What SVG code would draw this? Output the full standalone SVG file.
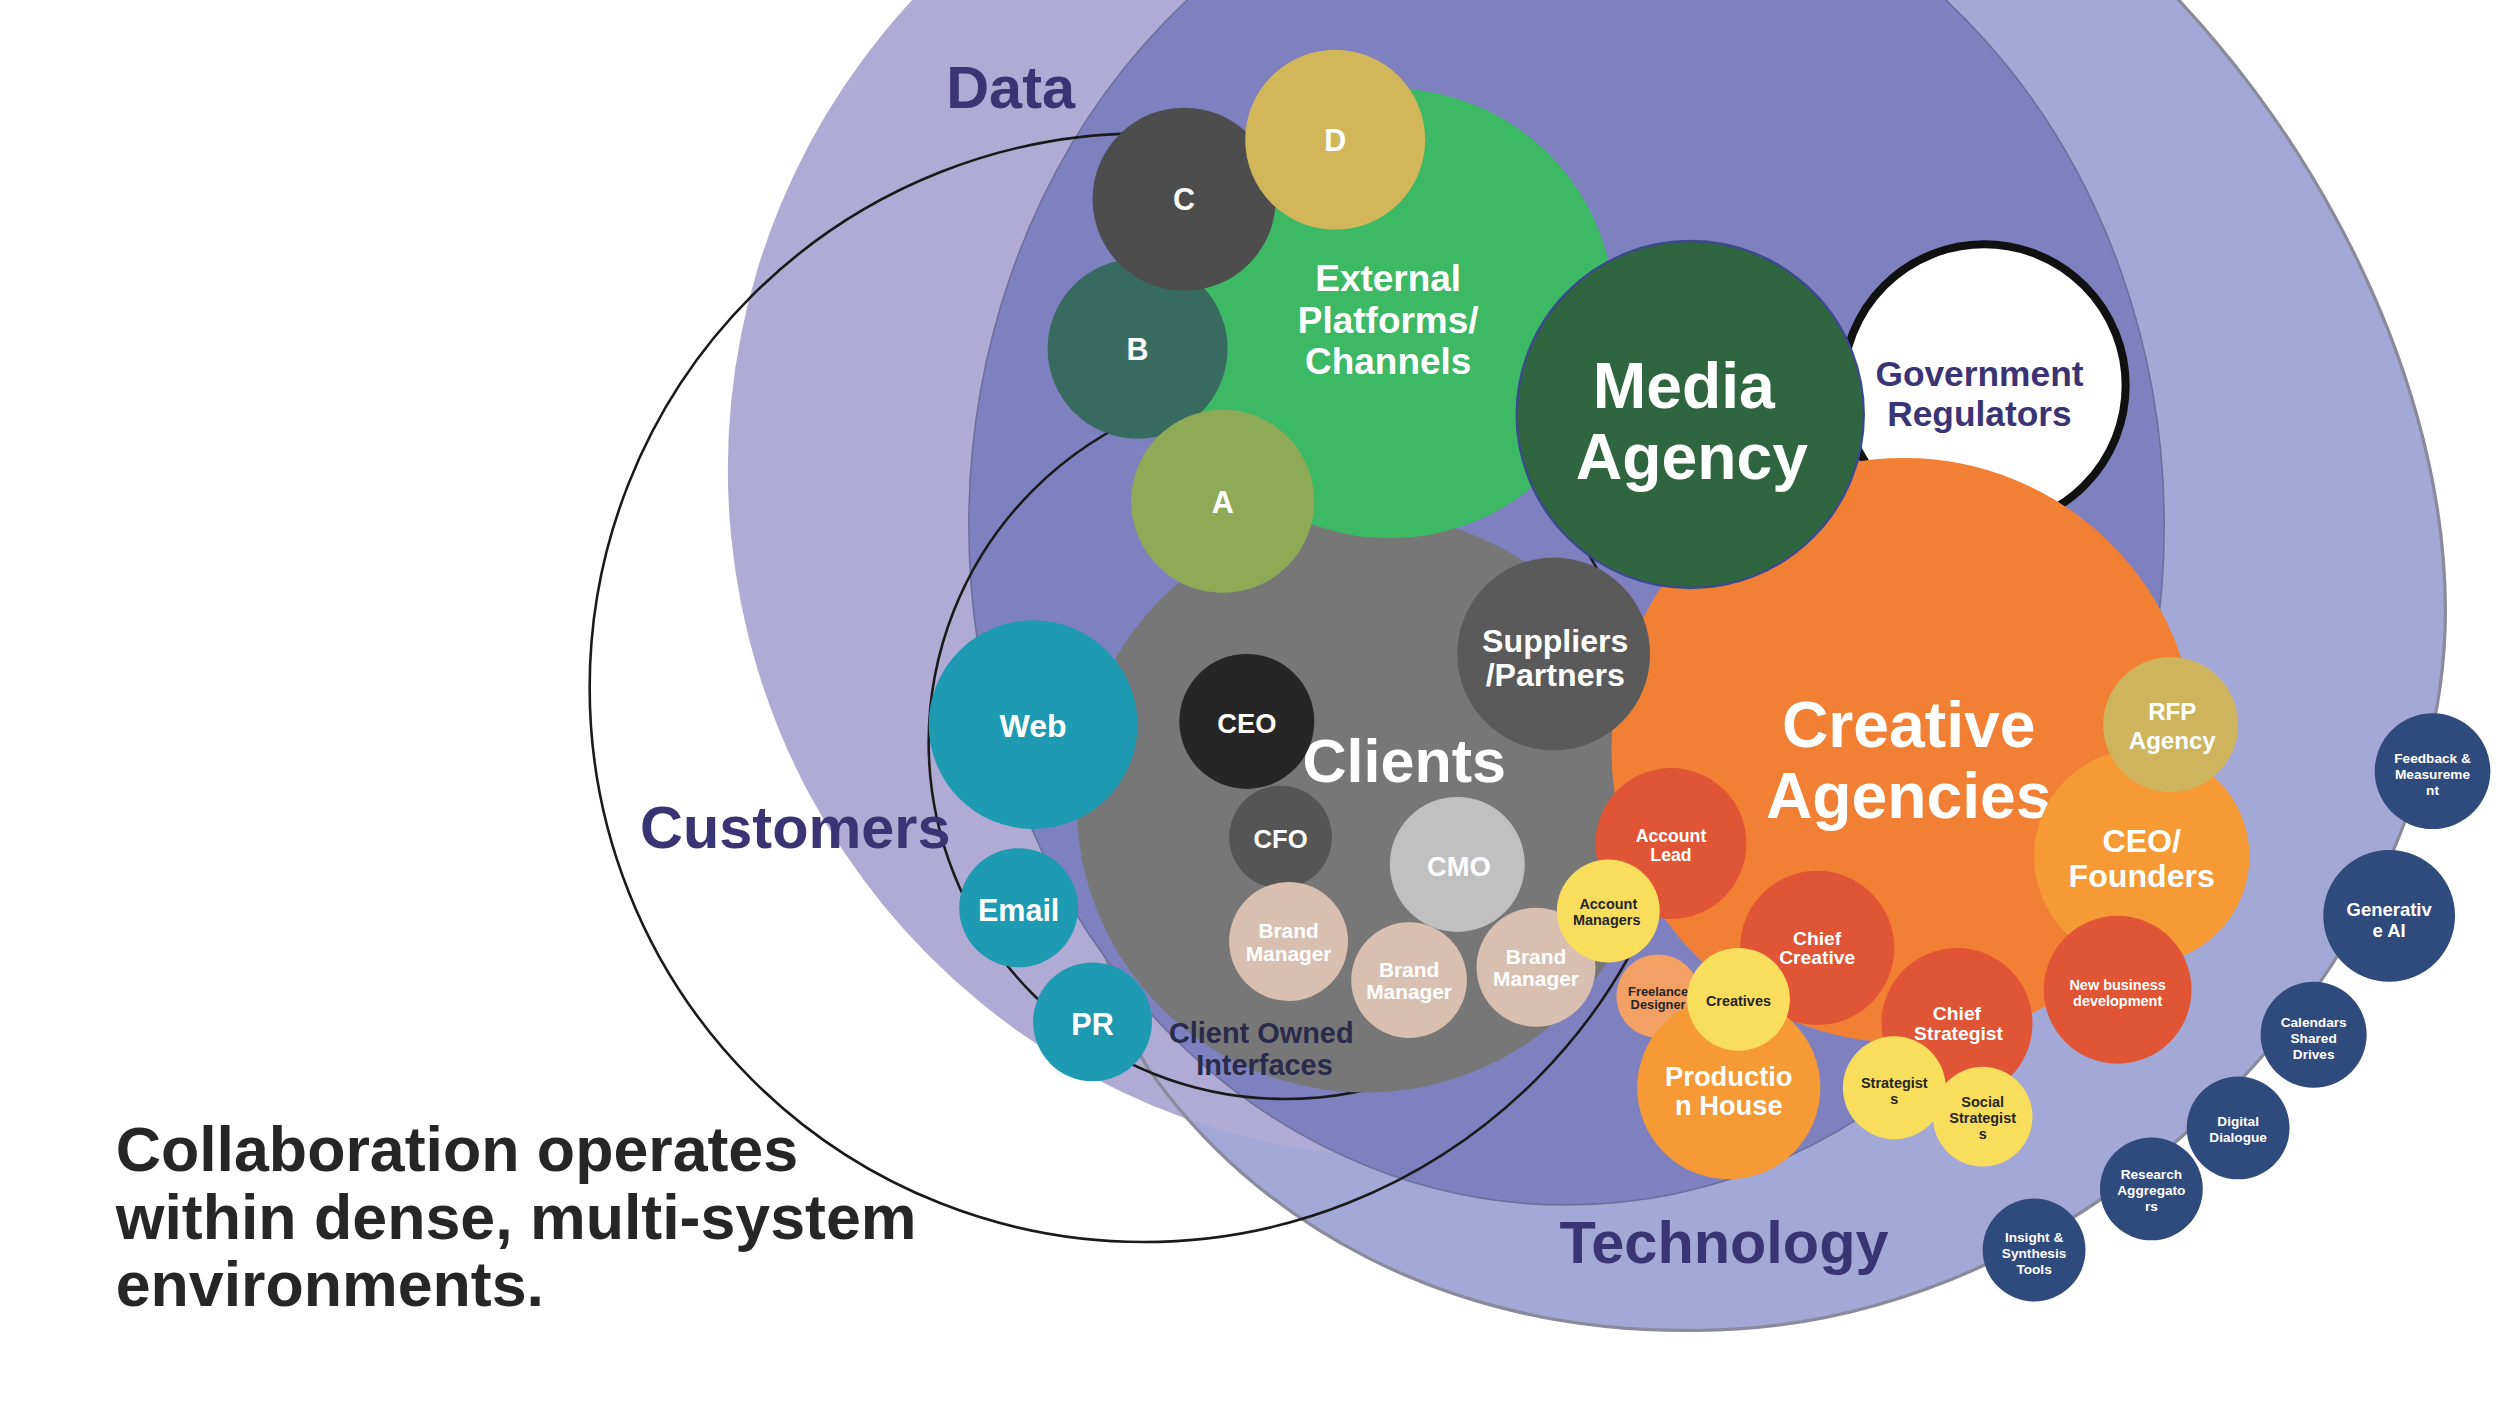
<svg xmlns="http://www.w3.org/2000/svg" width="2500" height="1406" viewBox="0 0 2500 1406">
<style>
text{font-family:"Liberation Sans",Arial,sans-serif;font-weight:bold;text-anchor:middle}
.w{fill:#fff}.d{fill:#262626}.p{fill:#3a3474}
.tool{fill:#2f4b7d}.red{fill:#e05535}.yel{fill:#f8de5c}.bm{fill:#d9bfb0}.teal{fill:#1f9ab3}
</style>
<defs>
<path id="techShape" d="M1290 -60 C1420 40 1522 220 1522 380 C1522 600 1300 828 1056 828 C900 830 780 760 714 664 C650 560 650 200 800 -60 Z"/>
</defs>
<rect width="2500" height="1406" fill="#fff"/>
<g transform="scale(1.6067)">
<g id="technology"><use href="#techShape" fill="#a3a8d6"/></g>
<g id="data"><circle cx="882" cy="292" r="429" fill="#b0abd5"/></g>
<g id="technology-outline"><use href="#techShape" fill="none" stroke="#8a8a9a" stroke-width="2"/></g>
<g id="inner"><ellipse cx="975" cy="327" rx="372" ry="423" fill="#7f80c0" stroke="#6e6e9e" stroke-width="1"/></g>
<g id="connectors" fill="none" stroke="#1a1a1a" stroke-width="1.6">
<circle cx="712" cy="428" r="345"/>
<circle cx="800" cy="462" r="222"/>
</g>
<text class="p" x="629" y="67" font-size="37">Data</text>
<text class="p" x="495" y="528" font-size="37">Customers</text>
<text class="p" x="1073" y="786" font-size="37">Technology</text>
<g id="gov"><circle cx="1235" cy="240" r="88" fill="#fff" stroke="#111" stroke-width="5"/><text class="p" x="1232" y="240" font-size="22">Government</text><text class="p" x="1232" y="265" font-size="22">Regulators</text></g>
<g id="clients"><circle cx="850" cy="500" r="180" fill="#777"/></g>
<g id="creative"><circle cx="1185" cy="467" r="182" fill="#f18034"/><text class="w" x="1188" y="465" font-size="40">Creative</text><text class="w" x="1188" y="509" font-size="40">Agencies</text></g>
<text class="w" x="874" y="487" font-size="38">Clients</text>
<g id="external"><circle cx="865" cy="195" r="140" fill="#3db865"/><text class="w" x="864" y="181" font-size="23">External</text><text class="w" x="864" y="207" font-size="23">Platforms/</text><text class="w" x="864" y="233" font-size="23">Channels</text></g>
<g id="b"><circle cx="708" cy="217" r="56" fill="#386b5f"/><text class="w" x="708" y="224" font-size="19">B</text></g>
<g id="c"><circle cx="737" cy="124" r="57" fill="#4d4d4d"/><text class="w" x="737" y="131" font-size="19">C</text></g>
<g id="d"><circle cx="831" cy="87" r="56" fill="#d2b65a"/><text class="w" x="831" y="94" font-size="19">D</text></g>
<g id="a"><circle cx="761" cy="312" r="57" fill="#8faa57"/><text class="w" x="761" y="319" font-size="19">A</text></g>
<g id="media"><circle cx="1052" cy="258" r="108" fill="#2f6640" stroke="#3a4a8a" stroke-width="1.5"/><text class="w" x="1048" y="254" font-size="40">Media</text><text class="w" x="1053" y="298" font-size="40">Agency</text></g>
<g id="suppliers"><circle cx="967" cy="407" r="60" fill="#5a5a5a"/><text class="w" x="968" y="406" font-size="20">Suppliers</text><text class="w" x="968" y="427" font-size="20">/Partners</text></g>
<g id="ceo"><circle cx="776" cy="449" r="42" fill="#262626"/><text class="w" x="776" y="456" font-size="17">CEO</text></g>
<g id="cfo"><circle cx="797" cy="521" r="32" fill="#555"/><text class="w" x="797" y="528" font-size="16">CFO</text></g>
<g id="cmo"><circle cx="907" cy="538" r="42" fill="#c0c0c0"/><text class="w" x="908" y="545" font-size="17">CMO</text></g>
<g id="bm1"><circle class="bm" cx="802" cy="586" r="37"/><text class="w" x="802" y="584" font-size="13">Brand</text><text class="w" x="802" y="598" font-size="13">Manager</text></g>
<g id="bm2"><circle class="bm" cx="877" cy="610" r="36"/><text class="w" x="877" y="608" font-size="13">Brand</text><text class="w" x="877" y="622" font-size="13">Manager</text></g>
<g id="bm3"><circle class="bm" cx="956" cy="602" r="37"/><text class="w" x="956" y="600" font-size="13">Brand</text><text class="w" x="956" y="614" font-size="13">Manager</text></g>
<g id="web"><circle class="teal" cx="643" cy="451" r="65"/><text class="w" x="643" y="459" font-size="20">Web</text></g>
<g id="email"><circle class="teal" cx="634" cy="565" r="37"/><text class="w" x="634" y="573" font-size="19">Email</text></g>
<g id="pr"><circle class="teal" cx="680" cy="636" r="37"/><text class="w" x="680" y="644" font-size="19">PR</text></g>
<text fill="#2a2a4a" x="785" y="649" font-size="18">Client Owned</text>
<text fill="#2a2a4a" x="787" y="669" font-size="18">Interfaces</text>
<g id="founders"><circle cx="1333" cy="533" r="67" fill="#f59a35"/><text class="w" x="1333" y="530" font-size="20">CEO/</text><text class="w" x="1333" y="552" font-size="20">Founders</text></g>
<g id="rfp"><circle cx="1351" cy="451" r="42" fill="#cfb45e"/><text class="w" x="1352" y="448" font-size="15">RFP</text><text class="w" x="1352" y="466" font-size="15">Agency</text></g>
<g id="newbiz"><circle class="red" cx="1318" cy="616" r="46"/><text class="w" x="1318" y="616" font-size="9">New business</text><text class="w" x="1318" y="626" font-size="9">development</text></g>
<g id="acclead"><circle class="red" cx="1040" cy="525" r="47"/><text class="w" x="1040" y="524" font-size="11">Account</text><text class="w" x="1040" y="536" font-size="11">Lead</text></g>
<g id="accman"><circle class="yel" cx="1001" cy="567" r="32"/><text class="d" x="1001" y="566" font-size="9">Account</text><text class="d" x="1000" y="576" font-size="9">Managers</text></g>
<g id="chiefcreative"><circle class="red" cx="1131" cy="590" r="48"/><text class="w" x="1131" y="588" font-size="12">Chief</text><text class="w" x="1131" y="600" font-size="12">Creative</text></g>
<g id="chiefstrat"><circle class="red" cx="1218" cy="637" r="47"/><text class="w" x="1218" y="635" font-size="12">Chief</text><text class="w" x="1219" y="647" font-size="12">Strategist</text></g>
<g id="freelance"><circle cx="1032" cy="620" r="26" fill="#f3a064"/><text class="d" x="1032" y="620" font-size="8">Freelance</text><text class="d" x="1032" y="628" font-size="8">Designer</text></g>
<g id="production"><circle cx="1076" cy="677" r="57" fill="#f59a35"/><text class="w" x="1076" y="676" font-size="17">Productio</text><text class="w" x="1076" y="694" font-size="17">n House</text></g>
<g id="creatives"><circle class="yel" cx="1082" cy="622" r="32"/><text class="d" x="1082" y="626" font-size="9">Creatives</text></g>
<g id="strategists"><circle class="yel" cx="1179" cy="677" r="32"/><text class="d" x="1179" y="677" font-size="9">Strategist</text><text class="d" x="1179" y="687" font-size="9">s</text></g>
<g id="socialstrat"><circle class="yel" cx="1234" cy="695" r="31"/><text class="d" x="1234" y="689" font-size="9">Social</text><text class="d" x="1234" y="699" font-size="9">Strategist</text><text class="d" x="1234" y="709" font-size="9">s</text></g>
<g id="feedback"><circle class="tool" cx="1514" cy="480" r="36"/><text class="w" x="1514" y="475" font-size="8.5">Feedback &amp;</text><text class="w" x="1514" y="485" font-size="8.5">Measureme</text><text class="w" x="1514" y="495" font-size="8.5">nt</text></g>
<g id="genai"><circle class="tool" cx="1487" cy="570" r="41"/><text class="w" x="1487" y="570" font-size="11.5">Generativ</text><text class="w" x="1487" y="583" font-size="11.5">e AI</text></g>
<g id="calendars"><circle class="tool" cx="1440" cy="644" r="33"/><text class="w" x="1440" y="639" font-size="8.5">Calendars</text><text class="w" x="1440" y="649" font-size="8.5">Shared</text><text class="w" x="1440" y="659" font-size="8.5">Drives</text></g>
<g id="digital"><circle class="tool" cx="1393" cy="702" r="32"/><text class="w" x="1393" y="701" font-size="8.5">Digital</text><text class="w" x="1393" y="711" font-size="8.5">Dialogue</text></g>
<g id="research"><circle class="tool" cx="1339" cy="740" r="32"/><text class="w" x="1339" y="734" font-size="8.5">Research</text><text class="w" x="1339" y="744" font-size="8.5">Aggregato</text><text class="w" x="1339" y="754" font-size="8.5">rs</text></g>
<g id="insight"><circle class="tool" cx="1266" cy="778" r="32"/><text class="w" x="1266" y="773" font-size="8.5">Insight &amp;</text><text class="w" x="1266" y="783" font-size="8.5">Synthesis</text><text class="w" x="1266" y="793" font-size="8.5">Tools</text></g>
<g id="title">
<text class="d" x="72" y="729" font-size="39" style="text-anchor:start">Collaboration operates</text>
<text class="d" x="72" y="771" font-size="39" style="text-anchor:start">within dense, multi-system</text>
<text class="d" x="72" y="813" font-size="39" style="text-anchor:start">environments.</text>
</g>
</g>
</svg>
